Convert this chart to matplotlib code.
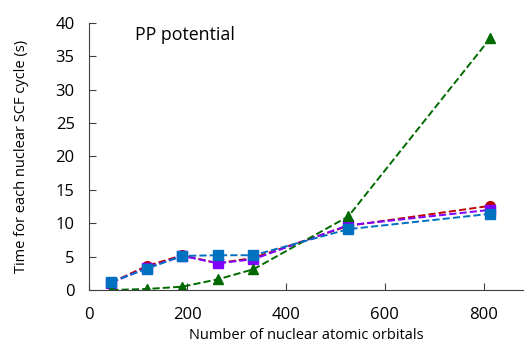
import numpy as np
import matplotlib.pyplot as plt

plt.rcParams['font.family'] = ['Open Sans', 'DejaVu Sans']

n_ao = [46, 118, 190, 262, 334, 526, 814]
t_red = [1.1, 3.6, 5.2, 4.0, 4.8, 9.6, 12.6]
t_purple = [1.1, 3.3, 5.1, 4.0, 4.6, 9.7, 12.0]
t_blue = [1.2, 3.2, 5.1, 5.2, 5.2, 9.1, 11.4]
t_green = [0.0, 0.15, 0.5, 1.6, 3.1, 11.0, 37.7]

fig = plt.figure(figsize=(5.24, 3.44), dpi=100)
ax = fig.add_axes([0.169, 0.157, 0.831, 0.777])

ax.plot(n_ao, t_red, "--", color="#C00000", marker="o", ms=7, lw=1.4)
ax.plot(n_ao, t_purple, "--", color="#8000FF", marker="s", ms=7, lw=1.4)
ax.plot(n_ao, t_green, "--", color="#006A00", marker="^", ms=7, lw=1.4)
ax.plot(n_ao, t_blue, "--", color="#0070C0", marker="s", ms=7, lw=1.4)

ax.set_xlim(0, 882)
ax.set_ylim(0, 40)
ax.set_xticks([0, 200, 400, 600, 800])
ax.set_yticks(np.arange(0, 41, 5))
ax.tick_params(direction="in", labelsize=12, length=5, color="#404040")
ax.tick_params(axis="x", pad=12)
ax.tick_params(axis="y", pad=10)
for s in ["top", "right"]:
    ax.spines[s].set_visible(False)
for s in ["left", "bottom"]:
    ax.spines[s].set_color("#404040")

ax.set_xlabel("Number of nuclear atomic orbitals", fontsize=10.5, labelpad=4)
ax.set_ylabel("Time for each nuclear SCF cycle (s)", fontsize=10.5, labelpad=19)
ax.text(0.107, 0.955, "PP potential", transform=ax.transAxes, fontsize=12.8, va="center")

plt.savefig("out.png", dpi=100)
